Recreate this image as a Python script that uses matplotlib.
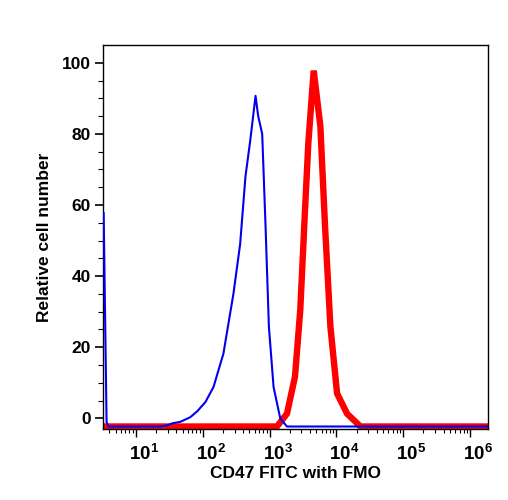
import matplotlib
matplotlib.use('Agg')
import matplotlib.pyplot as plt
import matplotlib.transforms as mtransforms
from matplotlib.ticker import LogLocator, FixedLocator, NullFormatter

plt.rcParams['font.family'] = 'Liberation Sans'
plt.rcParams['font.weight'] = 'bold'
plt.rcParams['mathtext.fontset'] = 'custom'
plt.rcParams['mathtext.rm'] = 'Liberation Sans:bold'
plt.rcParams['mathtext.bf'] = 'Liberation Sans:bold'

# FMO control (blue)
fmo_x = [3.3, 3.65, 3.9, 10, 23, 29.4, 35, 46, 65, 83, 110, 145, 204, 288, 363, 436,
         513, 617, 676, 776, 871, 977, 1148, 1445, 1820, 1.8e6]
fmo_y = [57.7, -1.1, -2.3, -2.3, -2.3, -2.0, -1.4, -1.0, 0.3, 2.0, 4.6, 8.8, 18.2, 35, 49, 68,
         78, 90.7, 85, 80, 54, 25.8, 8.8, 0, -2.3, -2.3]

# CD47 FITC stained (red)
cd47_x = [3.24, 1290, 1820, 2400, 2880, 3390, 3800, 4570, 5750, 6760, 8130, 10230,
          14450, 22900, 1.8e6]
cd47_y = [-2.3, -2.3, 1.3, 11.7, 30.5, 58.6, 77.4, 97.8, 82.2, 54, 25.8, 7,
          1.3, -2.3, -2.3]

fig = plt.figure(figsize=(5.08, 5.0), dpi=100)
ax = fig.add_axes([0.203, 0.142, 0.757, 0.768])

ax.plot(cd47_x, cd47_y, color='#ff0000', lw=4.6, solid_joinstyle='miter', zorder=2)
ax.plot(fmo_x, fmo_y, color='#0000ee', lw=1.5, zorder=3)

ax.set_xscale('log')
ax.set_xlim(3.24, 1.83e6)
ax.set_ylim(-3, 105)

ax.xaxis.set_major_locator(FixedLocator([1e1, 1e2, 1e3, 1e4, 1e5, 1e6]))
ax.set_xticklabels([r'$10^{%d}$' % i for i in range(1, 7)])
ax.xaxis.set_minor_locator(LogLocator(base=10, subs=range(2, 10), numticks=20))
ax.xaxis.set_minor_formatter(NullFormatter())
ax.set_yticks([0, 20, 40, 60, 80, 100])
ax.set_yticks(range(0, 105, 5), minor=True)

ax.tick_params(axis='x', which='major', length=6, width=1, labelsize=13.5, pad=4)
ax.tick_params(axis='x', which='minor', length=3, width=0.8)
ax.tick_params(axis='y', which='major', length=6, width=1.2, labelsize=12.5, pad=3)
ax.tick_params(axis='y', which='minor', length=3.5, width=0.8)
for s in ax.spines.values():
    s.set_linewidth(1)

# the "10" sits on the tick, exponent hangs to the right
shift = mtransforms.ScaledTranslation(8 / 100, 0, fig.dpi_scale_trans)
for lbl in ax.get_xticklabels():
    lbl.set_transform(lbl.get_transform() + shift)

ax.set_xlabel('CD47 FITC with FMO', fontsize=12.5, fontweight='bold', labelpad=2)
ax.set_ylabel('Relative cell number', fontsize=12.5, fontweight='bold', labelpad=7)

fig.savefig('out.png', dpi=100)
